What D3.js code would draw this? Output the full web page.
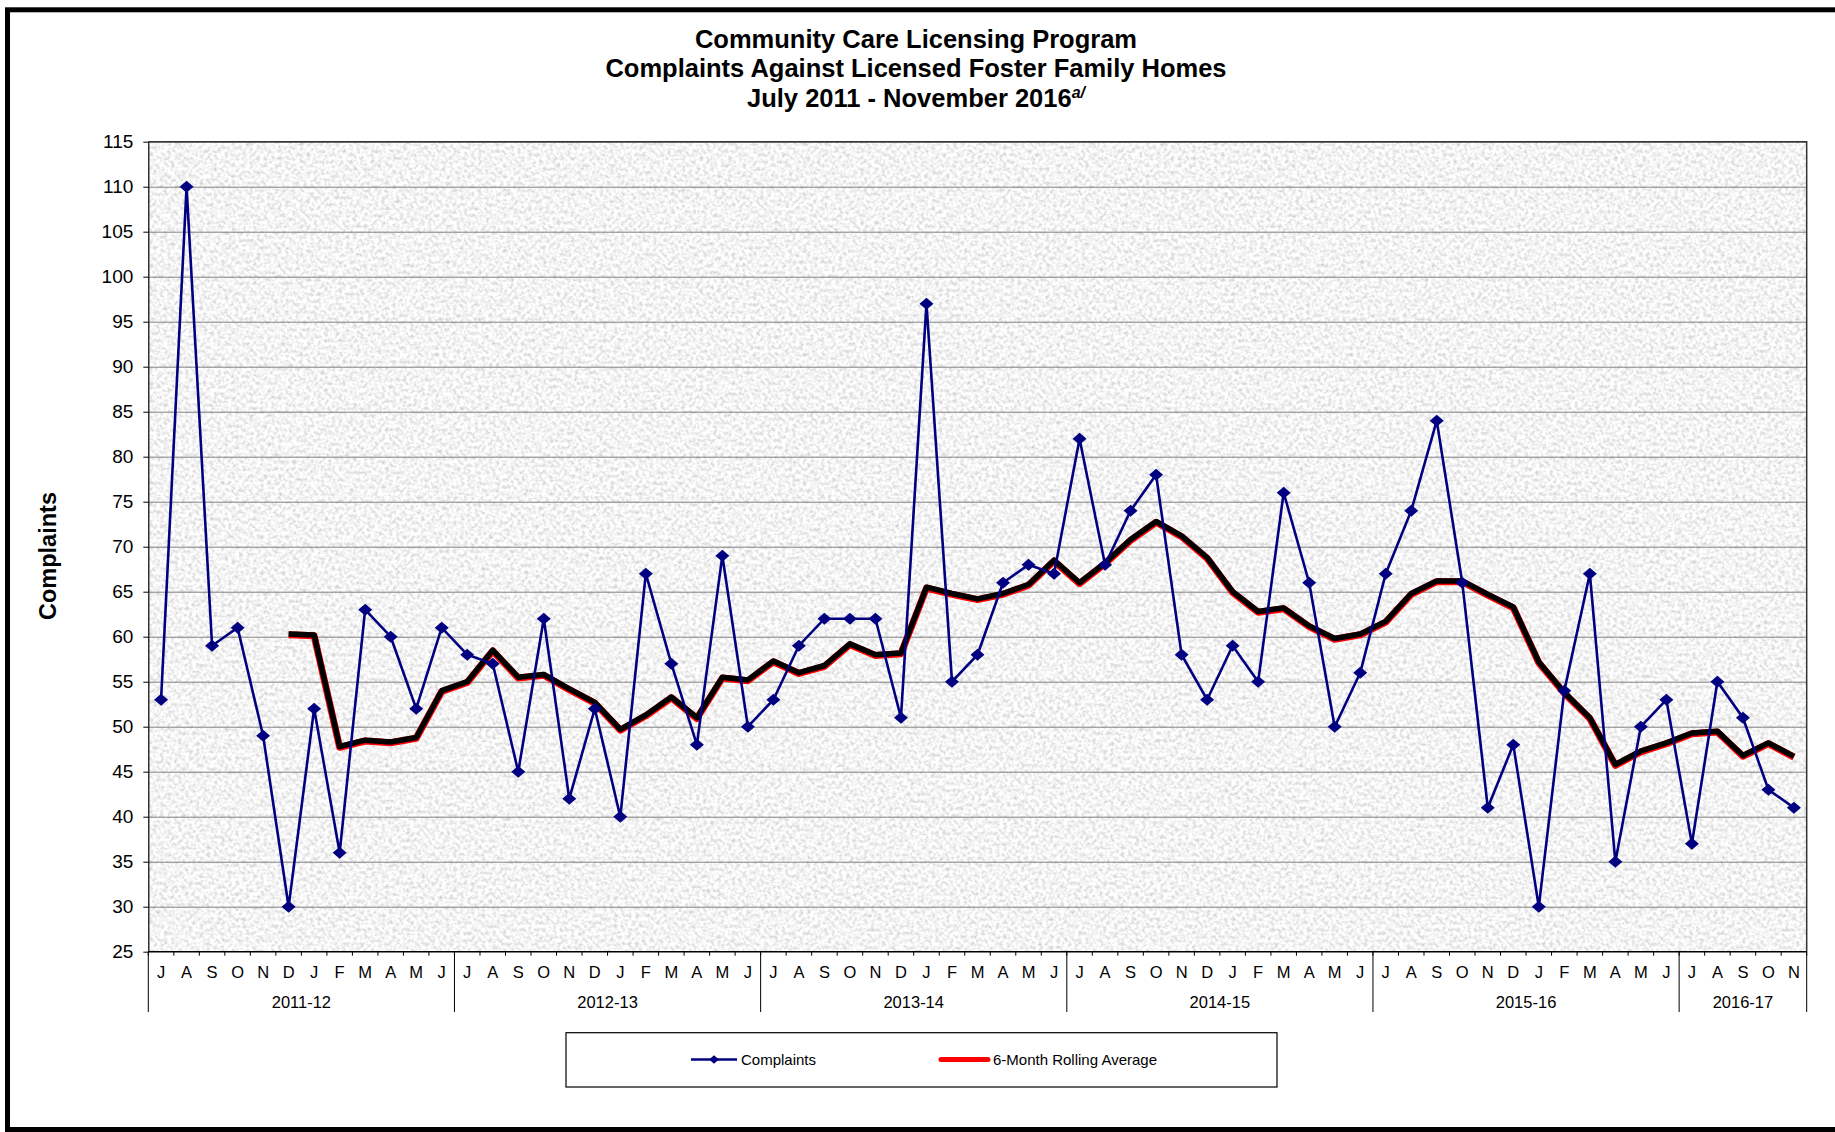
<!DOCTYPE html>
<html>
<head>
<meta charset="utf-8">
<script src="https://cdn.jsdelivr.net/npm/d3@7"></script>
<style>
  html, body { margin: 0; padding: 0; background: #fff; }
  svg { display: block; font-family: "Liberation Sans", Arial, sans-serif; }
</style>
</head>
<body>
<svg id="chart" width="1835" height="1132"></svg>
<script>
const WIDTH = 1835;
const HEIGHT = 1132;

// ---- data ----
const titleLines = [
  "Community Care Licensing Program",
  "Complaints Against Licensed Foster Family Homes",
  "July 2011 - November 2016"
];
const titleNote = "a/";

const monthLabels = [
  "J","A","S","O","N","D","J","F","M","A","M","J",
  "J","A","S","O","N","D","J","F","M","A","M","J",
  "J","A","S","O","N","D","J","F","M","A","M","J",
  "J","A","S","O","N","D","J","F","M","A","M","J",
  "J","A","S","O","N","D","J","F","M","A","M","J",
  "J","A","S","O","N"
];
const fiscalYears = ["2011-12", "2012-13", "2013-14", "2014-15", "2015-16", "2016-17"];
const monthsPerYear = [12, 12, 12, 12, 12, 5];

const complaints = [
  53, 110, 59, 61, 49, 30, 52, 36, 63, 60, 52, 61,
  58, 57, 45, 62, 42, 52, 40, 67, 57, 48, 69, 50,
  53, 59, 62, 62, 62, 51, 97, 55, 58, 66, 68, 67,
  82, 68, 74, 78, 58, 53, 59, 55, 76, 66, 50, 56,
  67, 74, 84, 66, 41, 48, 30, 54, 67, 35, 50, 53,
  37, 55, 51, 43, 41
];
// 6-month rolling average, first value shown in December 2011
const rollingAverage = [
  null, null, null, null, null, 60.3, 60.2, 47.8, 48.5, 48.3, 48.8, 54.0,
  55.0, 58.5, 55.5, 55.8, 54.2, 52.7, 49.7, 51.3, 53.3, 51.0, 55.5, 55.2,
  57.3, 56.0, 56.8, 59.2, 58.0, 58.2, 65.5, 64.8, 64.2, 64.8, 65.8, 68.5,
  66.0, 68.2, 70.8, 72.8, 71.2, 68.8, 65.0, 62.8, 63.2, 61.2, 59.8, 60.3,
  61.7, 64.8, 66.2, 66.2, 64.7, 63.3, 57.2, 53.8, 51.0, 45.8, 47.3, 48.2,
  49.3, 49.5, 46.8, 48.2, 46.7
];
const yDomain = [25, 115];
const legendItems = ["Complaints", "6-Month Rolling Average"];

// ---- layout ----
const plot = { left: 148.3, right: 1806.7, top: 141.7, bottom: 951.7 };
const NAVY = "#000080";

const svg = d3.select("#chart");

const x = d3.scaleBand()
  .domain(d3.range(complaints.length))
  .range([plot.left, plot.right]);
const cx = (i) => x(i) + x.bandwidth() / 2;
const y = d3.scaleLinear().domain(yDomain).range([plot.bottom, plot.top]);

// outer frame
svg.append("rect")
  .attr("x", 7.5).attr("y", 9.8)
  .attr("width", WIDTH + 40).attr("height", 1119.7)
  .attr("fill", "white")
  .attr("stroke", "black")
  .attr("stroke-width", 5);

// granite-like texture for the plot area
const defs = svg.append("defs");
const granite = defs.append("filter")
  .attr("id", "granite")
  .attr("filterUnits", "userSpaceOnUse")
  .attr("x", plot.left).attr("y", plot.top)
  .attr("width", plot.right - plot.left).attr("height", plot.bottom - plot.top);
granite.append("feTurbulence")
  .attr("type", "fractalNoise")
  .attr("baseFrequency", 0.28)
  .attr("numOctaves", 3)
  .attr("seed", 7);
granite.append("feColorMatrix")
  .attr("type", "matrix")
  .attr("values", "0.75 0 0 0 0.53  0.75 0 0 0 0.53  0.75 0 0 0 0.53  0 0 0 0 1");

svg.append("rect")
  .attr("x", plot.left).attr("y", plot.top)
  .attr("width", plot.right - plot.left).attr("height", plot.bottom - plot.top)
  .attr("fill", "#e6e6e6")
  .attr("filter", "url(#granite)");

// horizontal gridlines
svg.append("g")
  .attr("transform", `translate(${plot.left},0)`)
  .call(d3.axisLeft(y).ticks(18).tickSize(-(plot.right - plot.left)).tickFormat(""))
  .call((g) => g.select(".domain").remove())
  .call((g) => g.selectAll("line").attr("stroke", "#808080").attr("stroke-width", 1));

// plot border (top and right)
svg.append("path")
  .attr("d", `M${plot.left},${plot.top}H${plot.right}V${plot.bottom}`)
  .attr("fill", "none")
  .attr("stroke", "#333")
  .attr("stroke-width", 1.5);

// y axis
svg.append("g")
  .attr("transform", `translate(${plot.left},0)`)
  .call(d3.axisLeft(y).ticks(18).tickSize(5).tickSizeOuter(0).tickPadding(10))
  .call((g) => g.select(".domain").attr("stroke", "black").attr("stroke-width", 1.2))
  .call((g) => g.selectAll("line").attr("stroke", "black"))
  .call((g) => g.selectAll("text")
    .attr("font-family", "Liberation Sans, Arial, sans-serif")
    .attr("font-size", 19)
    .attr("fill", "black"));

svg.append("text")
  .attr("transform", `translate(56,556) rotate(-90)`)
  .attr("text-anchor", "middle")
  .attr("font-size", 23.5)
  .attr("font-weight", "bold")
  .text("Complaints");

// x axis: month ticks, month labels, fiscal year groups
const xAxis = svg.append("g").attr("class", "x-axis");
const edgeX = (i) => (i < complaints.length ? x(i) : plot.right);

xAxis.append("line")
  .attr("x1", plot.left).attr("x2", plot.right)
  .attr("y1", plot.bottom).attr("y2", plot.bottom)
  .attr("stroke", "black").attr("stroke-width", 1.2);

xAxis.selectAll("line.month-tick")
  .data(d3.range(complaints.length + 1))
  .join("line")
  .attr("class", "month-tick")
  .attr("x1", edgeX).attr("x2", edgeX)
  .attr("y1", plot.bottom).attr("y2", plot.bottom + 4)
  .attr("stroke", "black");

xAxis.selectAll("text.month")
  .data(monthLabels)
  .join("text")
  .attr("class", "month")
  .attr("x", (_, i) => cx(i))
  .attr("y", 977.6)
  .attr("text-anchor", "middle")
  .attr("font-size", 16.5)
  .text((d) => d);

// index of the first month of each fiscal year, plus the end
const yearEdges = [0, ...Array.from(d3.cumsum(monthsPerYear))];

xAxis.selectAll("line.year-sep")
  .data(yearEdges)
  .join("line")
  .attr("class", "year-sep")
  .attr("x1", edgeX).attr("x2", edgeX)
  .attr("y1", plot.bottom).attr("y2", 1012)
  .attr("stroke", "black");

xAxis.selectAll("text.year")
  .data(fiscalYears)
  .join("text")
  .attr("class", "year")
  .attr("x", (_, k) => (edgeX(yearEdges[k]) + edgeX(yearEdges[k + 1])) / 2)
  .attr("y", 1007.6)
  .attr("text-anchor", "middle")
  .attr("font-size", 16.5)
  .text((d) => d);

// rolling average: thick black line with a red edge
const avgLine = d3.line()
  .defined((d) => d != null)
  .x((_, i) => cx(i))
  .y((d) => y(d));

svg.append("path")
  .datum(rollingAverage)
  .attr("d", avgLine)
  .attr("transform", "translate(0,0.8)")
  .attr("fill", "none")
  .attr("stroke", "#ff0000")
  .attr("stroke-width", 7)
  .attr("stroke-linejoin", "round");
svg.append("path")
  .datum(rollingAverage)
  .attr("d", avgLine)
  .attr("fill", "none")
  .attr("stroke", "black")
  .attr("stroke-width", 5.5)
  .attr("stroke-linejoin", "round");

// complaints line + diamond markers
const complaintLine = d3.line()
  .x((_, i) => cx(i))
  .y((d) => y(d));

svg.append("path")
  .datum(complaints)
  .attr("d", complaintLine)
  .attr("fill", "none")
  .attr("stroke", NAVY)
  .attr("stroke-width", 2.6)
  .attr("stroke-linejoin", "miter");

const diamond = "M0,-6L7,0L0,6L-7,0Z";
svg.append("g")
  .selectAll("path")
  .data(complaints)
  .join("path")
  .attr("d", diamond)
  .attr("transform", (d, i) => `translate(${cx(i)},${y(d)})`)
  .attr("fill", NAVY);

// title
const title = svg.append("g")
  .attr("text-anchor", "middle")
  .attr("font-size", 25.5)
  .attr("font-weight", "bold");
const titleY = [47.5, 77, 107];
titleLines.forEach((line, k) => {
  const t = title.append("text")
    .attr("x", 916)
    .attr("y", titleY[k])
    .text(line);
  if (k === titleLines.length - 1) {
    t.append("tspan")
      .attr("font-size", 16)
      .attr("font-style", "italic")
      .attr("dy", -9)
      .text(titleNote);
  }
});

// legend
const legend = svg.append("g");
legend.append("rect")
  .attr("x", 566).attr("y", 1032.7)
  .attr("width", 711).attr("height", 54.3)
  .attr("fill", "white")
  .attr("stroke", "black")
  .attr("stroke-width", 1.2);

legend.append("line")
  .attr("x1", 691).attr("x2", 737)
  .attr("y1", 1059.5).attr("y2", 1059.5)
  .attr("stroke", NAVY).attr("stroke-width", 2.6);
legend.append("path")
  .attr("d", diamond)
  .attr("transform", "translate(714,1059.5) scale(0.7)")
  .attr("fill", NAVY);
legend.append("line")
  .attr("x1", 941).attr("x2", 988)
  .attr("y1", 1059.5).attr("y2", 1059.5)
  .attr("stroke", "#ff0000").attr("stroke-width", 5)
  .attr("stroke-linecap", "round");

legend.selectAll("text")
  .data(legendItems)
  .join("text")
  .attr("x", (_, i) => (i === 0 ? 741 : 993))
  .attr("y", 1064.7)
  .attr("font-size", 15)
  .text((d) => d);
</script>
</body>
</html>
